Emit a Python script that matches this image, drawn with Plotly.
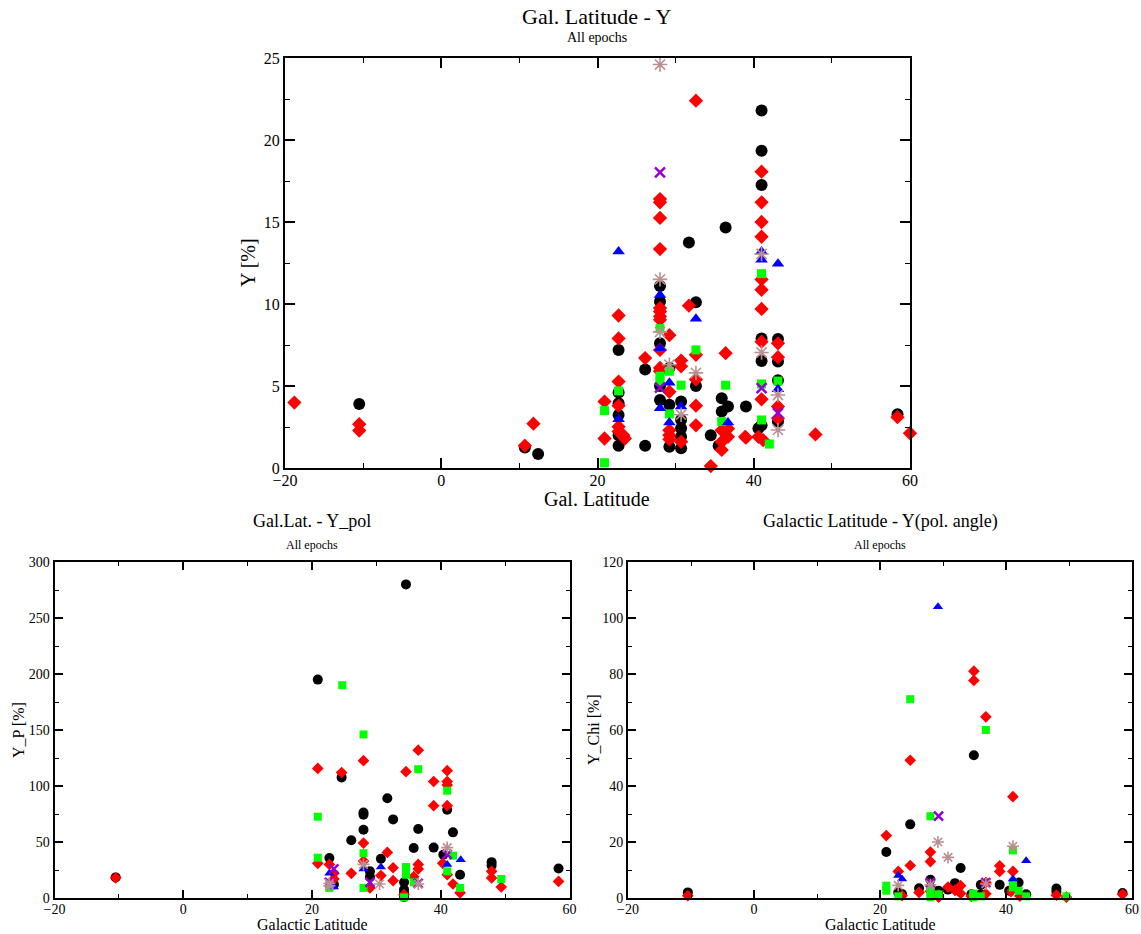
import plotly.graph_objects as go

# ---------------- TOP PANEL: Gal. Latitude vs Y [%] ----------------
top_black_x = [-10.5, 10.7, 12.4, 22.7, 22.7, 22.7, 22.7, 22.7, 22.7, 26.1, 26.1, 28, 28, 28, 28, 28,
               29.2, 29.2, 29.2, 30.7, 30.7, 30.7, 30.7, 30.7, 31.7, 32.6, 32.6, 34.5, 35.9, 35.9, 35.5,
               36.4, 36.7, 39, 41, 41, 41, 41, 41, 41, 40.6, 43.1, 43.1, 43.1, 43.1, 58.4]
top_black_y = [3.9, 1.25, 0.85, 7.2, 4.6, 3.95, 3.23, 2.0, 1.36, 6.0, 1.36, 11.1, 10.15, 7.6, 5.0, 4.15,
               6.1, 3.85, 1.3, 4.05, 2.93, 2.42, 1.9, 1.2, 13.75, 10.1, 5.0, 2.0, 4.25, 3.45, 1.36,
               14.67, 3.75, 3.75, 21.8, 19.35, 17.25, 7.9, 6.53, 2.6, 2.42, 7.86, 6.5, 5.35, 2.83, 3.28]

top_red_x = [-18.8, -10.5, -10.5, 10.7, 11.8, 20.9, 20.9, 22.7, 22.7, 22.7, 22.7, 22.7, 22.7, 23.3, 23.5,
             26.1, 28, 28, 28, 28, 28, 28, 28, 28, 28, 28, 28, 29.2, 29.2, 29.2, 29.2, 29.2,
             30.7, 30.7, 30.7, 31.7, 32.6, 32.6, 32.6, 32.6, 32.6, 34.5, 35.9, 36.7, 35.9, 36.7, 35.9,
             36.4, 39, 41, 41, 41, 41, 41, 41, 41, 41, 41, 38.9, 40.6, 41.2, 43.1, 43.1, 43.1, 43.1,
             47.9, 58.4, 60]
top_red_y = [3.99, 2.67, 2.28, 1.36, 2.7, 4.05, 1.8, 9.3, 7.9, 5.27, 3.8, 2.52, 2.22, 2.0, 1.8,
             6.7, 16.4, 16.2, 15.25, 13.35, 9.75, 9.54, 9.24, 9.04, 7.2, 6.1, 5.9, 8.1, 4.65, 2.3, 2.0, 1.75,
             6.55, 6.2, 1.6, 9.9, 22.4, 6.9, 5.4, 3.8, 2.6, 0.12, 2.3, 2.4, 1.6, 1.9, 1.1,
             7.0, 1.85, 18.07, 16.2, 15.0, 14.1, 11.5, 10.87, 9.7, 7.7, 4.19, 1.9, 1.9, 1.7, 7.6, 6.76, 3.75, 3.03,
             2.05, 3.1, 2.12]

top_green_x = [20.9, 20.9, 22.7, 28, 28, 28, 29.2, 29.2, 30.7, 32.6, 35.9, 36.4, 41, 41, 41, 42, 43.1]
top_green_y = [3.5, 0.32, 4.7, 8.5, 5.6, 5.3, 5.9, 3.3, 5.05, 7.2, 2.83, 5.05, 11.85, 5.13, 2.93, 1.46, 5.3]

top_blue_x = [22.7, 22.7, 28, 28, 28, 29.2, 29.2, 30.7, 32.6, 36.7, 41, 41, 43.1, 43.1]
top_blue_y = [13.2, 2.97, 10.55, 7.3, 3.65, 5.2, 2.77, 3.75, 9.1, 2.77, 13.2, 12.7, 12.45, 4.8]

top_purple_x = [28, 28, 41, 43.1]
top_purple_y = [18.03, 4.9, 4.87, 3.34]

top_brown_x = [28, 28, 28, 29.2, 30.7, 32.6, 41, 41, 43.1, 43.1]
top_brown_y = [24.6, 11.5, 8.3, 6.3, 3.25, 5.8, 13.05, 7.04, 4.45, 2.32]

# ---------------- BOTTOM LEFT: Galactic Latitude vs Y_P [%] ----------------
bl_black_x = [-10.5, 20.9, 22.7, 23.4, 24.6, 26.1, 28, 28, 28, 29, 29, 30.7, 31.7, 32.6, 34.6, 34.3, 34.3,
              34.3, 34.3, 35.8, 36.5, 38.9, 40.4, 41, 41.9, 43, 47.9, 47.9, 58.3]
bl_black_y = [18.4, 195, 35.7, 12, 107.7, 51.5, 76.4, 74.4, 61, 23.8, 19, 35, 89, 70.2, 280, 14, 7.5,
              4.6, 1, 44.6, 61.6, 45, 38.7, 78.8, 58.6, 20.8, 32, 29, 26.4]

bl_red_x = [-10.5, 20.9, 20.9, 22.7, 23.4, 23.4, 24.6, 26.1, 28, 28, 28, 29, 30.7, 31.7, 32.6, 32.6, 34.3,
            34.6, 35.8, 36.5, 36.5, 36.5, 38.9, 38.9, 40.3, 41, 41, 41, 41, 41, 41.9, 43, 47.9, 47.9,
            49.4, 58.3]
bl_red_y = [18, 115.7, 31, 30, 22, 17, 112, 22, 122.6, 49, 33, 9, 20, 40.7, 27, 15.5, 3,
            112.8, 19, 132, 30, 26, 104, 82.4, 31, 113.7, 104, 101, 82.4, 20.8, 12.5, 4.6, 23.8, 17.9,
            9.8, 14.8]

bl_green_x = [20.9, 20.9, 22.7, 24.7, 28, 28, 28, 34.6, 34.6, 34.3, 35.8, 36.5, 41, 41, 41.9, 43, 49.4]
bl_green_y = [72.6, 36, 9, 190, 146, 40, 9, 27.7, 20.8, 0.5, 14, 115, 95.8, 23.8, 37.8, 9, 17]

bl_blue_x = [22.7, 23.4, 28, 30.7, 41, 43.1]
bl_blue_y = [22, 9.8, 26, 27.7, 30, 34.2]

bl_purple_x = [23.4, 22.7, 29, 36.5, 41]
bl_purple_y = [26, 14, 14, 13, 39]

bl_brown_x = [22.7, 22.7, 28, 30.5, 36.5, 41]
bl_brown_y = [13, 11, 30, 12.5, 12.5, 45]

# ---------------- BOTTOM RIGHT: Galactic Latitude vs Y_Chi [%] ----------------
br_black_x = [-10.5, 21, 22.9, 23.5, 24.8, 26.2, 28, 29.3, 30.8, 31.9, 32.8, 34.5, 34.9, 36, 36, 39,
              40.5, 42, 43.2, 48, 48, 58.5]
br_black_y = [2.0, 16.4, 2.0, 1.4, 26.3, 3.5, 6.5, 2.6, 3, 5.3, 10.7, 1.3, 51, 4.7, 1.3, 4.7,
              2.6, 5.5, 1.3, 3.4, 2.2, 1.8]

br_red_x = [-10.5, 21, 22.9, 23.5, 24.8, 24.8, 26.2, 28, 28, 28, 29.3, 29.3, 30.8, 31.9, 32.8, 32.8,
            34.9, 34.9, 34.5, 36.8, 36.8, 36.8, 39, 39, 41.1, 41.1, 40.8, 42.2, 48, 49.6, 58.5]
br_red_y = [0.8, 22.3, 9.5, 0.8, 49.2, 11.6, 2, 16.4, 13, 2.4, 1.1, 0.3, 3.9, 2.7, 4.4, 1.6,
            81, 77.7, 0.6, 64.7, 5.5, 1.5, 11.5, 9.5, 36.2, 9.5, 2.3, 0.7, 1.0, 0.3, 1.3]

br_green_x = [21, 21, 22.9, 24.8, 28, 28, 28, 28, 29.3, 34.8, 34.8, 36, 36.8, 41.1, 41.1, 41.1, 42,
              43.2, 49.6]
br_green_y = [4.4, 2.6, 0.6, 71, 29.2, 3.5, 2, 0.3, 1.3, 1.6, 0.3, 0.6, 60, 17, 5.5, 3.8, 2.6,
              0.6, 0.6]

br_blue_x = [22.9, 23.5, 29.2, 41.1, 43.2]
br_blue_y = [8, 6.8, 104, 6.8, 13.3]

br_purple_x = [28, 29.3, 36.8]
br_purple_y = [5.5, 29.2, 5.5]

br_brown_x = [22.9, 28, 29.2, 30.8, 41.1, 36.8]
br_brown_y = [4.5, 4.7, 20, 14.5, 18.5, 5]

# ---------------- styling ----------------
FONT = "Liberation Serif, Times New Roman, serif"
W, H = 1141, 934

BLACK = "#000000"
RED = "#ff0000"
GREEN = "#00ff00"
BLUE = "#0000ff"
PURPLE = "#9400d3"
BROWN = "#bc8f8f"


def px_x(p):
    return p / W


def px_y(p):
    return 1 - p / H


fig = go.Figure()


def add_series(xs, ys, xa, ya, color, symbol, size, open_line=None):
    marker = dict(color=color, symbol=symbol, size=size)
    if open_line is None:
        marker["line"] = dict(width=0)
    else:
        marker["line"] = dict(width=open_line, color=color)
    fig.add_trace(go.Scatter(x=xs, y=ys, mode="markers", marker=marker, xaxis=xa, yaxis=ya,
                             showlegend=False, cliponaxis=False, hoverinfo="x+y"))


def add_panel(data, xa, ya, s):
    (bx, by), (rx, ry), (gx, gy), (ux, uy), (px_, py_), (wx, wy) = data
    add_series(bx, by, xa, ya, BLACK, "circle", s["circle"])
    add_series(rx, ry, xa, ya, RED, "diamond", s["diamond"])
    add_series(gx, gy, xa, ya, GREEN, "square", s["square"])
    add_series(ux, uy, xa, ya, BLUE, "triangle-up", s["triangle"])
    add_series(px_, py_, xa, ya, PURPLE, "x-thin-open", s["x"], open_line=2.5)
    add_series(wx, wy, xa, ya, BROWN, "asterisk-open", s["ast"], open_line=1.6)


add_panel([(top_black_x, top_black_y), (top_red_x, top_red_y), (top_green_x, top_green_y),
           (top_blue_x, top_blue_y), (top_purple_x, top_purple_y), (top_brown_x, top_brown_y)],
          "x", "y", dict(circle=12, diamond=11, square=9, triangle=11, x=10, ast=12))
add_panel([(bl_black_x, bl_black_y), (bl_red_x, bl_red_y), (bl_green_x, bl_green_y),
           (bl_blue_x, bl_blue_y), (bl_purple_x, bl_purple_y), (bl_brown_x, bl_brown_y)],
          "x2", "y2", dict(circle=10, diamond=9, square=8, triangle=9, x=9, ast=10))
add_panel([(br_black_x, br_black_y), (br_red_x, br_red_y), (br_green_x, br_green_y),
           (br_blue_x, br_blue_y), (br_purple_x, br_purple_y), (br_brown_x, br_brown_y)],
          "x3", "y3", dict(circle=10, diamond=9, square=8, triangle=9, x=9, ast=10))


def axis(domain, rng, dtick, minor_dtick, anchor, fsize, ticklen=10, standoff=0):
    return dict(domain=domain, range=rng, dtick=dtick, tick0=0, anchor=anchor,
                showline=True, linecolor="black", linewidth=2, mirror="allticks",
                ticks="inside", ticklen=ticklen, tickwidth=1.5, tickcolor="black",
                showgrid=False, zeroline=False, automargin=False,
                ticklabelstandoff=standoff,
                minor=dict(ticks="inside", ticklen=ticklen // 2, dtick=minor_dtick,
                           tickwidth=1.2, tickcolor="black", showgrid=False),
                tickfont=dict(family=FONT, size=fsize, color="black"))


top_xd = [px_x(285), px_x(910)]
top_yd = [px_y(468), px_y(58)]
bl_xd = [px_x(54.5), px_x(569.5)]
bl_yd = [px_y(898), px_y(562)]
br_xd = [px_x(628), px_x(1132)]
br_yd = [px_y(898), px_y(562)]

fig.update_layout(
    width=W, height=H,
    margin=dict(l=0, r=0, t=0, b=0, pad=0, autoexpand=False),
    paper_bgcolor="white", plot_bgcolor="white",
    font=dict(family=FONT, color="black"),
    xaxis=axis(top_xd, [-20, 60], 20, 10, "y", 16, 10, -3),
    yaxis=axis(top_yd, [0, 25], 5, 2.5, "x", 16),
    xaxis2=axis(bl_xd, [-20, 60], 20, 10, "y2", 14, 8, -3),
    yaxis2=axis(bl_yd, [0, 300], 50, 25, "x2", 14, 8),
    xaxis3=axis(br_xd, [-20, 60], 20, 10, "y3", 14, 8, -3),
    yaxis3=axis(br_yd, [0, 120], 20, 10, "x3", 14, 8),
)

annots = [
    ("Gal. Latitude - Y", 597, 16, 22, 0),
    ("All epochs", 597, 38, 14, 0),
    ("Y [%]", 248, 263, 20, -90),
    ("Gal. Latitude", 597, 499, 20, 0),
    ("Gal.Lat. - Y_pol", 312, 521, 18, 0),
    ("All epochs", 312, 545, 12, 0),
    ("Y_P [%]", 18, 730, 16, -90),
    ("Galactic Latitude", 312, 924, 16, 0),
    ("Galactic Latitude - Y(pol. angle)", 880, 521, 18, 0),
    ("All epochs", 880, 545, 12, 0),
    ("Y_Chi [%]", 593, 730, 16, -90),
    ("Galactic Latitude", 880, 924, 16, 0),
]
for text, x, y, size, ang in annots:
    fig.add_annotation(text=text, x=px_x(x), y=px_y(y), xref="paper", yref="paper",
                       xanchor="center", yanchor="middle", showarrow=False, textangle=ang,
                       font=dict(family=FONT, size=size, color="black"))

fig.write_html("out.html")
